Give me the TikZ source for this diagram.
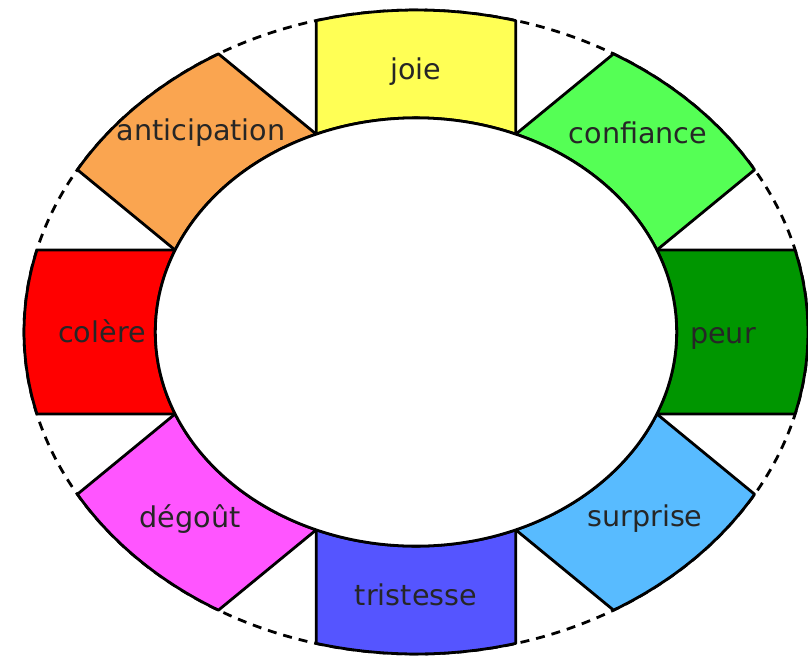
\documentclass[tikz,border=0pt]{standalone}
\usepackage{fontspec}
\setmainfont{DejaVu Sans}
\definecolor{cjoie}{HTML}{FFFF55}
\definecolor{cconf}{HTML}{55FF55}
\definecolor{cpeur}{HTML}{009600}
\definecolor{csurp}{HTML}{58BBFF}
\definecolor{ctrist}{HTML}{5555FF}
\definecolor{cdeg}{HTML}{FF55FF}
\definecolor{ccol}{HTML}{FF0000}
\definecolor{cant}{HTML}{FAA550}
\tikzset{
  segbox/.style={draw=black, line width=1.4pt, line join=round},
  outerring/.style={draw=black, line width=1.4pt, dash pattern=on 4.5pt off 3.5pt},
  innerring/.style={draw=black, fill=white, line width=1.4pt},
  lbl/.style={font=\fontsize{14.3}{16}\selectfont, text=black!85, inner sep=0pt}
}
\begin{document}
\begin{tikzpicture}
\useasboundingbox (-208pt,166pt) rectangle (196pt,-164pt);
\begin{scope}[xscale=6.8886, yscale=5.6585]
  \def\rin{0.665}
  \def\dd{14.743}
  \path[outerring] (0,0) circle[radius=1];
  \foreach \a/\col in {90/cjoie, 45/cconf, 0/cpeur, -45/csurp, -90/ctrist, -135/cdeg, 180/ccol, 135/cant}{
    \path[segbox, fill=\col] (\a-22.5:\rin) -- (\a-\dd:1)
      arc[start angle=\a-\dd, end angle=\a+\dd, radius=1]
      -- (\a+22.5:\rin)
      arc[start angle=\a+22.5, end angle=\a-22.5, radius=\rin] -- cycle;
  }
  \path[innerring] (0,0) circle[radius=\rin];
\end{scope}
\node[lbl] (joie) at (0pt,130pt) {joie};
\node[lbl] (confiance) at (111pt,99.5pt) {confiance};
\node[lbl] (peur) at (153.5pt,-3pt) {peur};
\node[lbl] (surprise) at (114.5pt,-93.5pt) {surprise};
\node[lbl] (tristesse) at (0pt,-131.5pt) {tristesse};
\node[lbl] (degout) at (-113pt,-93.5pt) {dégoût};
\node[lbl] (colere) at (-157pt,0.5pt) {colère};
\node[lbl] (anticipation) at (-107.5pt,99.5pt) {anticipation};
\end{tikzpicture}
\end{document}
